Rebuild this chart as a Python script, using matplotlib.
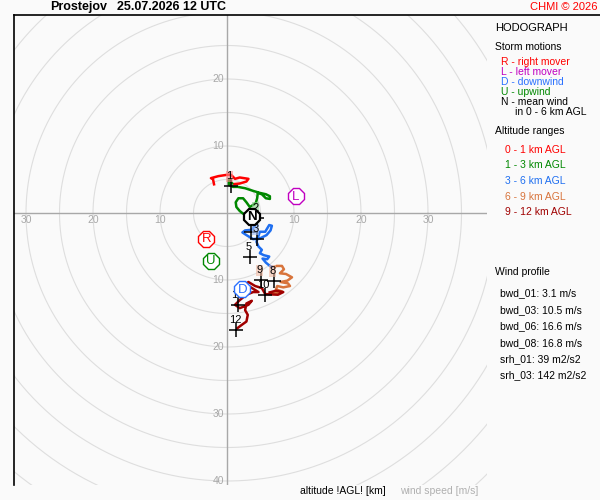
import numpy as np
import matplotlib
matplotlib.use('Agg')
import matplotlib.pyplot as plt
from matplotlib.lines import Line2D

plt.rcParams['font.family'] = ['Liberation Sans', 'DejaVu Sans']

# hodograph segments (u, v in m/s), colour per altitude range
seg_names = ['0 - 1 km AGL', '1 - 3 km AGL', '3 - 6 km AGL', '6 - 9 km AGL', '9 - 12 km AGL']
seg_colors = ['#ff0000', '#008800', '#1f6ff0', '#d8743c', '#a00000']

u_01 = [-1.9, -2.1, -2.4, -1.3, 0.0, 0.6, 1.2, 1.9, 3.2, 2.9, 1.9, 0.9]
v_01 = [4.1, 5.1, 5.2, 5.5, 5.7, 5.7, 5.1, 5.3, 5.1, 4.7, 4.4, 4.3]

u_13 = [0.9, 0.3, 0.3, 0.9, 1.6, 2.7, 3.9, 4.9, 5.8, 6.4, 6.4, 5.8, 5.2, 4.6, 4.5, 4.3,
        3.9, 3.4, 2.9, 2.4, 1.7, 1.3, 1.4, 1.9, 2.4, 3.1, 3.7, 4.5, 4.5]
v_13 = [4.3, 4.9, 4.2, 3.9, 3.9, 3.7, 3.3, 3.0, 2.8, 2.5, 2.1, 2.2, 2.8, 3.0, 2.2, 1.5,
        1.2, 0.9, 1.6, 2.2, 2.2, 1.6, 0.9, 0.3, -0.1, -0.1, 0.1, -0.4, -1.5]

u_36 = [4.5, 3.7, 2.7, 2.3, 2.9, 3.9, 4.9, 5.9, 6.5, 6.7, 6.3, 6.0, 5.7, 4.9, 4.4, 4.7,
        5.2, 4.9, 5.5, 6.3, 6.0, 5.3, 5.8, 6.4, 6.9]
v_36 = [-1.5, -2.5, -2.6, -2.9, -3.3, -3.9, -3.8, -3.3, -2.6, -1.9, -1.8, -2.3, -2.8, -2.8,
        -4.3, -5.0, -5.5, -6.0, -6.3, -6.5, -6.9, -6.8, -7.4, -7.9, -8.1]

u_69 = [6.9, 7.4, 8.2, 8.5, 7.9, 8.8, 9.7, 9.0, 8.0, 9.1, 9.4, 8.4, 7.5, 7.3, 8.2, 7.2, 6.2]
v_69 = [-8.1, -7.9, -7.9, -8.4, -9.0, -9.1, -9.6, -10.1, -10.3, -10.5, -10.9, -11.1, -10.9,
        -11.4, -11.7, -12.0, -11.9]

u_912 = [6.2, 7.3, 8.4, 7.6, 5.7, 5.2, 4.2, 3.2, 2.7, 3.4, 4.7, 3.9, 2.9, 1.9, 1.2, 1.9,
         3.2, 3.7, 2.9, 2.7, 3.1, 2.9, 2.2, 1.4]
v_912 = [-11.9, -11.6, -11.8, -12.2, -12.1, -11.2, -10.9, -10.3, -10.7, -11.0, -11.8, -11.8,
         -12.2, -13.0, -13.7, -14.2, -13.7, -13.1, -13.5, -14.5, -15.2, -16.2, -16.7, -17.3]

# km level markers
lvl_labels = ['1', '2', '3', '', '5', '8', '9', '10', '11', '12']
lvl_u = [0.6, 4.5, 4.5, 3.6, 3.4, 7.0, 5.1, 5.6, 1.7, 1.4]
lvl_v = [4.0, -0.7, -3.9, -2.8, -6.6, -10.1, -10.0, -12.2, -13.7, -17.4]
lvl_box = ['#ff9090', '#90d090', '#a0c0ff', None, None, '#f0b8a0', '#f0b8a0', None, None, None]

# storm motions
storm_letters = ['R', 'L', 'D', 'U', 'N']
storm_u = [-3.1, 10.3, 2.3, -2.4, 3.7]
storm_v = [-3.9, 2.5, -11.4, -7.1, -0.6]
storm_colors = ['#ff0000', '#c000c0', '#2a70ff', '#008800', '#000000']
storm_text = ['R - right mover', 'L - left mover', 'D - downwind', 'U - upwind', 'N - mean wind']

ring_labels = [10, 20, 30, 40]
profile_lines = ['bwd_01: 3.1 m/s', 'bwd_03: 10.5 m/s', 'bwd_06: 16.6 m/s',
                 'bwd_08: 16.8 m/s', 'srh_01: 39 m2/s2', 'srh_03: 142 m2/s2']

W, H = 600, 500
BG = '#fafafa'
fig = plt.figure(figsize=(6, 5), dpi=100, facecolor=BG)


def px(x, y):
    return x / W, 1 - y / H


# plot area: centre at (227, 213) px, 6.7 px per m/s
scale = 6.7
x0, y0 = 227, 213
l, r, t, b = 14, 487, 15, 485
ax = fig.add_axes([l / W, 1 - b / H, (r - l) / W, (b - t) / H])
ax.set_facecolor(BG)
ax.set_xlim((l - x0) / scale, (r - x0) / scale)
ax.set_ylim((y0 - b) / scale, (y0 - t) / scale)
for s in ax.spines.values():
    s.set_visible(False)
ax.set_xticks([])
ax.set_yticks([])

th = np.linspace(0, 2 * np.pi, 400)
for rr in range(5, 65, 5):
    ax.plot(rr * np.cos(th), rr * np.sin(th), color='#dedede', lw=0.8, zorder=1)
ax.axhline(0, color='#a8a8a8', lw=1, zorder=2)
ax.axvline(0, color='#a8a8a8', lw=1, zorder=2)

lab_c = '#a8a8a8'
for rv in ring_labels:
    if rv <= 20:
        ax.text(-0.4, rv, str(rv), color=lab_c, fontsize=7.5, ha='right', va='center')
    ax.text(-0.4, -rv, str(rv), color=lab_c, fontsize=7.5, ha='right', va='center')
    if rv <= 30:
        ax.text(rv, -0.3, str(rv), color=lab_c, fontsize=7.5, ha='center', va='top')
        ax.text(-rv, -0.3, str(rv), color=lab_c, fontsize=7.5, ha='center', va='top')

segs = [(u_01, v_01), (u_13, v_13), (u_36, v_36), (u_69, v_69), (u_912, v_912)]
for (uu, vv), c in zip(segs, seg_colors):
    ax.plot(uu, vv, color=c, lw=1.8, zorder=4, solid_capstyle='butt')

for lab, uu, vv, bc in zip(lvl_labels, lvl_u, lvl_v, lvl_box):
    ax.plot(uu, vv, marker='+', color='black', ms=10, mew=1.1, zorder=5)
    if lab:
        bb = dict(boxstyle='square,pad=0.05', fc=bc, ec='none', alpha=0.6) if bc else None
        ax.annotate(lab, (uu, vv), xytext=(-1, 7), textcoords='offset points',
                    fontsize=8, ha='center', va='center', zorder=6, bbox=bb)

for let, uu, vv, c in zip(storm_letters, storm_u, storm_v, storm_colors):
    bold = let == 'N'
    ax.plot(uu, vv, marker='8', ms=12.5, mfc='white', mec=c, mew=1.6 if bold else 1.0, zorder=7)
    ax.text(uu, vv - 0.05, let, color=c, fontsize=9.5, ha='center', va='center',
            fontweight='bold' if bold else 'normal', zorder=8)

# frame lines
fig.add_artist(Line2D([l / W, 1], [1 - t / H, 1 - t / H], color='black', lw=1.2))
fig.add_artist(Line2D([l / W, l / W], [1 - t / H, 1 - b / H], color='black', lw=1.2))

# header
fig.text(*px(50, 7), 'Prostejov', fontsize=9, fontweight='bold', va='center')
fig.text(*px(117, 7), '25.07.2026 12 UTC', fontsize=9, fontweight='bold', va='center')
fig.text(*px(597, 7), 'CHMI \u00a9 2026', fontsize=8, color='#ff0000', ha='right', va='center')

# right panel
fs = 7.5
fig.text(*px(495, 28), 'HODOGRAPH', fontsize=8, va='center')
fig.text(*px(495, 47), 'Storm motions', fontsize=fs, va='center')
for i, (txt, c) in enumerate(zip(storm_text, storm_colors)):
    fig.text(*px(501, 62 + 10 * i), txt, fontsize=fs, color=c, va='center')
fig.text(*px(515, 112), 'in 0 - 6 km AGL', fontsize=fs, va='center')
fig.text(*px(495, 131), 'Altitude ranges', fontsize=fs, va='center')
for i, (txt, c) in enumerate(zip(seg_names, seg_colors)):
    fig.text(*px(505, 150 + 15.5 * i), txt, fontsize=fs, color=c, va='center')
fig.text(*px(495, 272), 'Wind profile', fontsize=fs, va='center')
ys = [293, 310, 326, 343, 359, 375]
for yy, txt in zip(ys, profile_lines):
    fig.text(*px(500, yy), txt, fontsize=fs, va='center')

# footer
fig.text(*px(300, 491), 'altitude !AGL! [km]', fontsize=7.5, va='center')
fig.text(*px(400, 491), 'wind speed [m/s]', fontsize=7.5, color='#b0b0b0', va='center')

fig.savefig('out.png', dpi=100, facecolor=BG)
